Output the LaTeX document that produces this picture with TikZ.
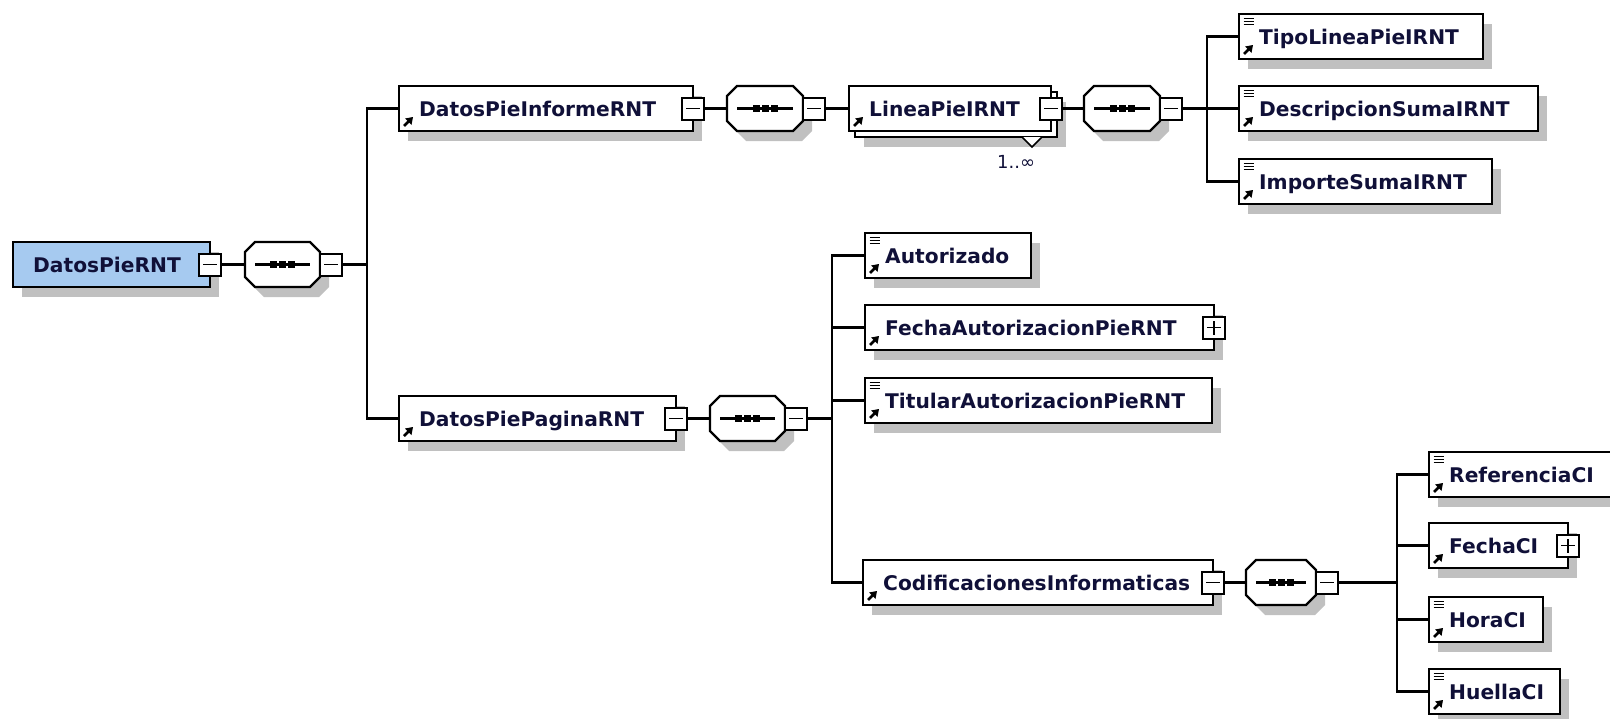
\documentclass[tikz,border=0pt]{standalone}
\usepackage{fontspec}
\setmainfont{DejaVu Sans}
\usetikzlibrary{calc}
\definecolor{shd}{RGB}{192,192,192}
\definecolor{rootfill}{RGB}{166,202,240}
\definecolor{txtc}{RGB}{16,16,56}
\tikzset{
  elem/.style={draw=black, line width=2.3pt, fill=white, rectangle, minimum height=45pt, inner sep=0pt, outer sep=0pt},
  lbl/.style={font=\fontsize{20.2}{24}\selectfont\bfseries, text=txtc, inner sep=0pt, anchor=base west},
  pm/.style={draw=black, line width=2pt, fill=white, rectangle, minimum width=22pt, minimum height=22pt, inner sep=0pt, outer sep=0pt},
  conn/.style={line width=2.3pt, draw=black},
  seqbox/.style={rectangle, minimum height=45pt, inner sep=0pt, outer sep=0pt},
}
% [shadow] name left top right text simple
\newcommand\Elem[7][1]{%
  \pgfmathsetmacro\eW{#5-#3}%
  \ifnum#1=1 \fill[shd] ({#3+9},{#4+10}) rectangle ({#5+9},{#4+55});\fi
  \node[elem, anchor=north west, minimum width=\eW pt] (#2) at (#3,#4) {};
  \node[lbl] (#2-t) at ([xshift=20pt,yshift=15pt]#2.south west) {#6};
  \draw[line width=2.6pt] ([xshift=5pt,yshift=5pt]#2.south west) -- ([xshift=10pt,yshift=10pt]#2.south west);
  \fill ([xshift=14pt,yshift=14pt]#2.south west) -- ([xshift=6pt,yshift=12.5pt]#2.south west) -- ([xshift=12.5pt,yshift=6pt]#2.south west) -- cycle;
  \ifnum#7=1
    \foreach \k in {-4.5,-7.5,-10.5} {\draw[line width=1.4pt] ([xshift=4.5,yshift=\k]#2.north west) -- ++(10pt,0pt);}
  \fi
}
% name anchor position plus
\newcommand\PM[4]{%
  \node[pm, anchor=#2] (#1) at (#3) {};
  \draw[line width=1.8pt] ([xshift=4pt]#1.west) -- ([xshift=-4pt]#1.east);
  \ifnum#4=1 \draw[line width=1.8pt] ([yshift=4pt]#1.south) -- ([yshift=-4pt]#1.north);\fi
}
% name left cy width
\newcommand\Seq[4]{%
  \pgfmathsetmacro\sL{#2}\pgfmathsetmacro\sR{#2+#4}%
  \pgfmathsetmacro\sT{#3-22.5}\pgfmathsetmacro\sB{#3+22.5}%
  \node[seqbox, anchor=west, minimum width=#4pt] (#1) at (#2,#3) {};
  \begin{scope}[shift={(9,10)}]
  \fill[shd] ({\sL+10},{\sT}) -- ({\sR-10},{\sT}) -- ({\sR},{\sT+10}) -- ({\sR},{\sB-10}) -- ({\sR-10},{\sB}) -- ({\sL+10},{\sB}) -- ({\sL},{\sB-10}) -- ({\sL},{\sT+10}) -- cycle;
  \end{scope}
  \draw[line width=2.3pt, fill=white] ({\sL+10},{\sT}) -- ({\sR-10},{\sT}) -- ({\sR},{\sT+10}) -- ({\sR},{\sB-10}) -- ({\sR-10},{\sB}) -- ({\sL+10},{\sB}) -- ({\sL},{\sB-10}) -- ({\sL},{\sT+10}) -- cycle;
  \draw[line width=2.3pt] ([xshift=10pt]#1.west) -- ([xshift=-10pt]#1.east);
  \foreach \d in {-12.5,-3.5,5.5} {\fill ([xshift=\d,yshift=3.5]#1.center) rectangle ++(7pt,-7pt);}
}
\begin{document}
\begin{tikzpicture}[x=1pt,y=-1pt]
\useasboundingbox (0,0) rectangle (1610,718);
% root
\fill[shd] (22,252) rectangle (219,297);
\node[elem, fill=rootfill, anchor=north west, minimum width=197pt] (root) at (13,242) {};
\node[lbl] (root-t) at ([xshift=20pt,yshift=15pt]root.south west) {DatosPieRNT};
\PM{root-m}{center}{root.east}{0}
\Seq{seq1}{245}{264.5}{75}
\PM{seq1-m}{west}{seq1.east}{0}
\coordinate (bus1) at (367,264.5);
% row 1
\Elem{dpi}{399}{86}{693}{DatosPieInformeRNT}{0}
\PM{dpi-m}{center}{dpi.east}{0}
\Seq{seq2}{727}{108.5}{76}
\PM{seq2-m}{west}{seq2.east}{0}
\fill[shd] (864,102) rectangle (1066,147);
\draw[line width=2.3pt, fill=white] (855,92) rectangle (1057,137);
\Elem[0]{lpi}{849}{86}{1051}{LineaPieIRNT}{0}
\PM{lpi-m}{center}{lpi.east}{0}
\draw[line width=1.6pt, fill=white] (1022,137) -- (1032,147) -- (1042,137);
\node[font=\fontsize{18}{20}\selectfont, text=txtc, anchor=base west, inner sep=0pt] (occ) at (997,168) {1..∞};
\Seq{seq3}{1084}{108.5}{76}
\PM{seq3-m}{west}{seq3.east}{0}
\coordinate (bus3) at (1207,108.5);
\Elem{tipo}{1239}{14}{1483}{TipoLineaPieIRNT}{1}
\Elem{desc}{1239}{86}{1538}{DescripcionSumaIRNT}{1}
\Elem{imp}{1239}{159}{1492}{ImporteSumaIRNT}{1}
% row 2
\Elem{dpp}{399}{396}{676}{DatosPiePaginaRNT}{0}
\PM{dpp-m}{center}{dpp.east}{0}
\Seq{seq4}{710}{418.5}{75}
\PM{seq4-m}{west}{seq4.east}{0}
\coordinate (bus2) at (832,418.5);
\Elem{aut}{865}{233}{1031}{Autorizado}{1}
\Elem{fap}{865}{305}{1214}{FechaAutorizacionPieRNT}{0}
\PM{fap-p}{center}{fap.east}{1}
\Elem{tap}{865}{378}{1212}{TitularAutorizacionPieRNT}{1}
\Elem{ci}{863}{560}{1213}{CodificacionesInformaticas}{0}
\PM{ci-m}{center}{ci.east}{0}
\Seq{seq5}{1246}{582.5}{70}
\PM{seq5-m}{west}{seq5.east}{0}
\coordinate (bus4) at (1397,582.5);
\Elem{ref}{1429}{452}{1613}{ReferenciaCI}{1}
\Elem{fci}{1429}{523}{1568}{FechaCI}{0}
\PM{fci-p}{center}{fci.east}{1}
\Elem{hora}{1429}{597}{1543}{HoraCI}{1}
\Elem{hue}{1429}{669}{1560}{HuellaCI}{1}
% connectors
\draw[conn] (root-m.east) -- (seq1.west);
\draw[conn] (seq1-m.east) -- (bus1);
\draw[conn] (bus1) |- (dpi.west);
\draw[conn] (bus1) |- (dpp.west);
\draw[conn] (dpi-m.east) -- (seq2.west);
\draw[conn] (seq2-m.east) -- (lpi.west);
\draw[conn] (lpi-m.east) -- (seq3.west);
\draw[conn] (seq3-m.east) -- (bus3);
\draw[conn] (bus3) |- (tipo.west);
\draw[conn] (bus3) |- (desc.west);
\draw[conn] (bus3) |- (imp.west);
\draw[conn] (dpp-m.east) -- (seq4.west);
\draw[conn] (seq4-m.east) -- (bus2);
\draw[conn] (bus2) |- (aut.west);
\draw[conn] (bus2) |- (fap.west);
\draw[conn] (bus2) |- (tap.west);
\draw[conn] (bus2) |- (ci.west);
\draw[conn] (ci-m.east) -- (seq5.west);
\draw[conn] (seq5-m.east) -- (bus4);
\draw[conn] (bus4) |- (ref.west);
\draw[conn] (bus4) |- (fci.west);
\draw[conn] (bus4) |- (hora.west);
\draw[conn] (bus4) |- (hue.west);
\end{tikzpicture}
\end{document}
